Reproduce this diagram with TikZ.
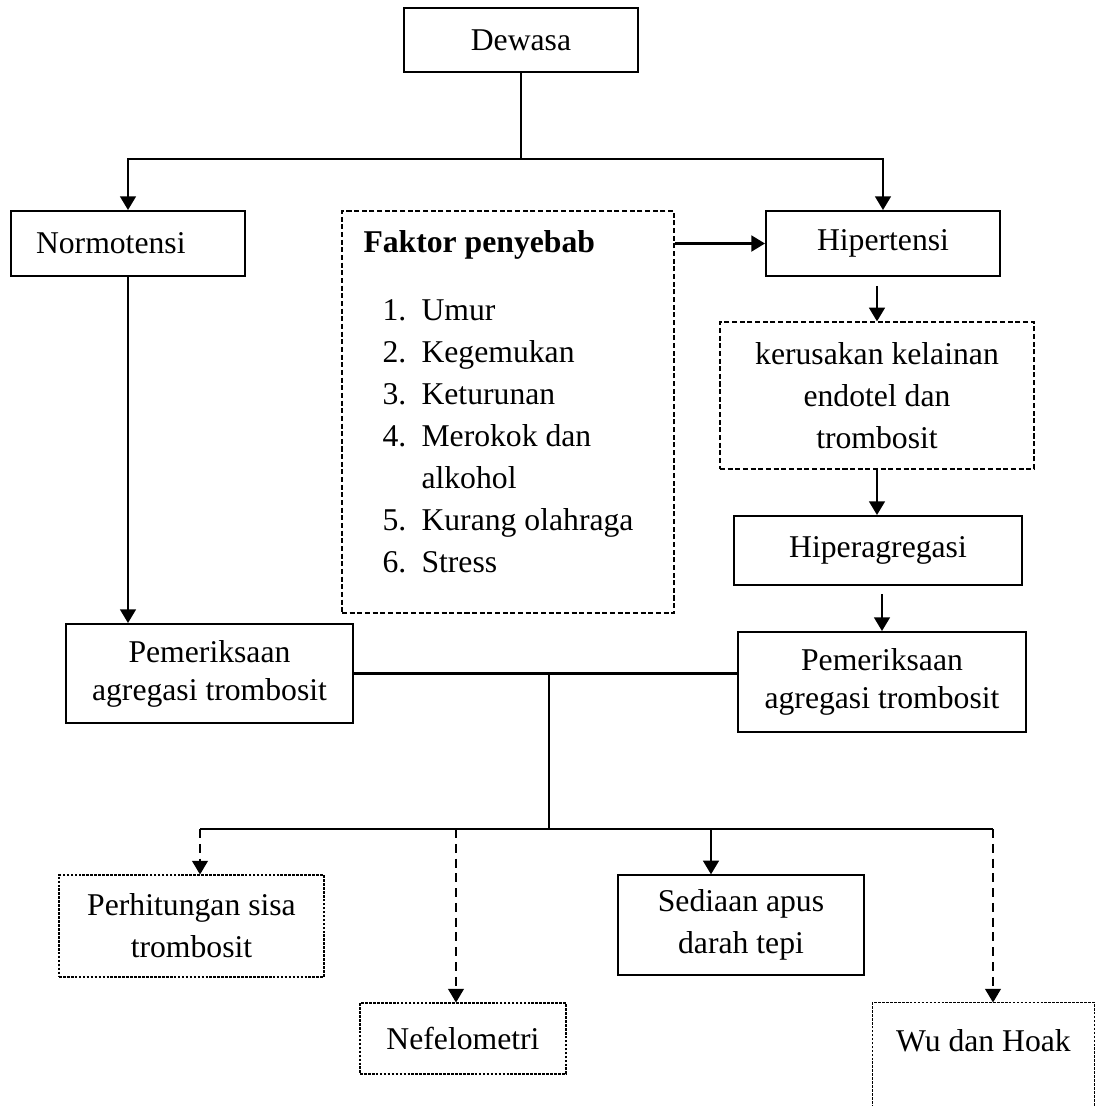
\documentclass[tikz,border=0pt]{standalone}
\usepackage{fontspec}
\setmainfont{Liberation Serif}
\usetikzlibrary{arrows.meta}
\newdimen\px
\px=0.3788pt
\tikzset{
  box/.style={draw, line width=0.75pt, inner sep=0pt, align=center},
  dashbox/.style={draw, line width=0.5pt, dash pattern=on 1.9pt off 1pt, inner sep=0pt, align=center},
  dotbox/.style={draw, line width=0.4pt, dash pattern=on 1pt off 0.5pt, inner sep=0pt, align=center},
  arr/.style={-{Triangle[width=6pt,length=5.2pt]}, line width=0.75pt},
  dasharr/.style={arr, dash pattern=on 3.4pt off 2.2pt},
  bus/.style={line width=0.95pt},
}
\begin{document}
\begin{tikzpicture}[x=0.3788pt, y=-0.3788pt, every node/.style={font=\fontsize{12pt}{15.9pt}\selectfont}]
    \useasboundingbox (0,0) rectangle (1097,1106);
    \clip (0,0) rectangle (1097,1106);

    \node[box, minimum width=234\px, minimum height=64\px] (dewasa) at (521,40) {Dewasa};
    \node[box, minimum width=234\px, minimum height=65\px, text width=184\px, align=left] (normo) at (128,243.5) {Normotensi};
    \node[box, minimum width=234\px, minimum height=65\px] (hiper) at (883,243.5) {Hipertensi};

    % faktor penyebab
    \node[dashbox, minimum width=332\px, minimum height=402\px] (faktor) at (508,412) {};
    \node[anchor=base west, inner sep=0pt] (title) at (363,252) {\textbf{Faktor penyebab}};
    \foreach \i/\txt/\yy in {1/Umur/320, 2/Kegemukan/362, 3/Keturunan/404, 4/Merokok dan/446, 5/Kurang olahraga/530, 6/Stress/572}{
        \node[anchor=base west, inner sep=0pt] (num_\i) at (382,\yy) {\i.};
        \node[anchor=base west, inner sep=0pt] (item_\i) at (421,\yy) {\txt};
    }
    \node[anchor=base west, inner sep=0pt] (item_4b) at (421,488) {alkohol};

    \node[dashbox, minimum width=314\px, minimum height=147\px] (rusak) at (877,395.5) {kerusakan kelainan\\endotel dan\\trombosit};
    \node[box, minimum width=288\px, minimum height=69\px] (hiperag) at (878,550.5) {Hiperagregasi};
    \node[box, minimum width=288\px, minimum height=100\px, font=\fontsize{12pt}{14.4pt}\selectfont] (periksa_b) at (882,682) {Pemeriksaan\\agregasi trombosit};
    \node[box, minimum width=287\px, minimum height=99\px, font=\fontsize{12pt}{14.4pt}\selectfont] (periksa_a) at (209.5,673.5) {Pemeriksaan\\agregasi trombosit};

    % metode
    \node[dotbox, minimum width=265\px, minimum height=102\px] (hitung) at (191.5,926) {Perhitungan sisa\\trombosit};
    \node[dotbox, minimum width=206\px, minimum height=71\px] (nefelo) at (463,1038.5) {Nefelometri};
    \node[box, line width=0.5pt, minimum width=246\px, minimum height=100\px] (apus) at (741,925) {Sediaan apus\\darah tepi};
    \node[minimum width=221\px, minimum height=76\px, inner sep=0pt] (wu) at (983.5,1041) {Wu dan Hoak};
    \draw[line width=0.4pt, dash pattern=on 1pt off 0.5pt] ([yshift=-40\px]wu.south west) -- (wu.north west) -- (wu.north east) -- ([yshift=-40\px]wu.south east);

    % connectors
    \coordinate (top_split) at (521,159);
    \draw[line width=0.75pt] (dewasa.south) -- (top_split);
    \draw[arr] (top_split) -| (normo.north);
    \draw[arr] (top_split) -| (hiper.north);
    \draw[arr, line width=1pt] (faktor.east |- hiper.west) -- (hiper.west);
    \draw[arr, shorten <=9\px] (rusak.north |- hiper.south) -- (rusak.north);
    \draw[arr] (rusak.south) -- (rusak.south |- hiperag.north);
    \draw[arr, shorten <=8\px] (periksa_b.north |- hiperag.south) -- (periksa_b.north);
    \draw[arr] (normo.south) -- (normo.south |- periksa_a.north);
    \draw[bus] (periksa_a.east) -- (periksa_a.east -| periksa_b.west);

    \coordinate (mid_split) at (549,673.5);
    \coordinate (low_split) at (549,829);
    \draw[line width=0.75pt] (mid_split) -- (low_split);

    \coordinate (to_hitung) at (200,829);
    \coordinate (to_nefelo) at (456,829);
    \coordinate (to_apus) at (711,829);
    \coordinate (to_wu) at (993,829);
    \draw[bus] (to_hitung) -- (to_wu);
    \draw[dasharr] (to_hitung) -- (to_hitung |- hitung.north);
    \draw[dasharr] (to_nefelo) -- (to_nefelo |- nefelo.north);
    \draw[arr] (to_apus) -- (to_apus |- apus.north);
    \draw[dasharr] (to_wu) -- (to_wu |- wu.north);
\end{tikzpicture}
\end{document}
